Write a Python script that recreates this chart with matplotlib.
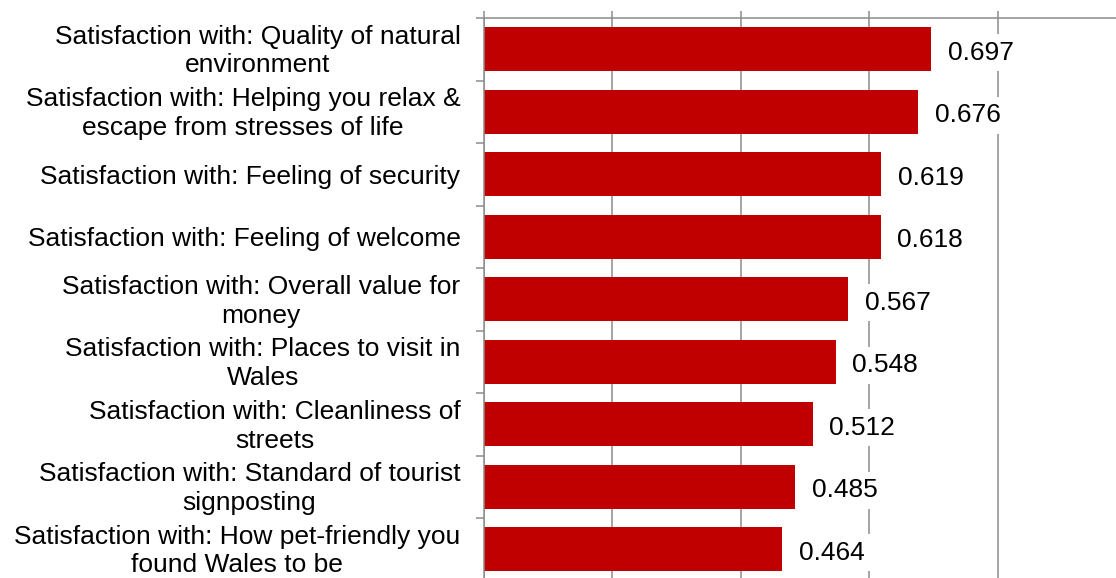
import matplotlib

matplotlib.use("Agg")
import matplotlib.pyplot as plt
from matplotlib.ticker import FixedLocator, MultipleLocator
from matplotlib.transforms import ScaledTranslation

categories = [
    "Satisfaction with: Quality of natural\nenvironment",
    "Satisfaction with: Helping you relax &\nescape from stresses of life",
    "Satisfaction with: Feeling of security",
    "Satisfaction with: Feeling of welcome",
    "Satisfaction with: Overall value for\nmoney",
    "Satisfaction with: Places to visit in\nWales",
    "Satisfaction with: Cleanliness of\nstreets",
    "Satisfaction with: Standard of tourist\nsignposting",
    "Satisfaction with: How pet-friendly you\nfound Wales to be",
]
scores = [0.697, 0.676, 0.619, 0.618, 0.567, 0.548, 0.512, 0.485, 0.464]

BAR = "#C00000"
GRID = "#8c8c8c"
FS = 19

plt.rcParams["font.family"] = ["Liberation Sans", "DejaVu Sans"]

W, H = 1116, 578
fig = plt.figure(figsize=(W / 100, H / 100), dpi=100)
x0, top, px_per_unit, band = 484, 18, 642, 62.5
n = len(categories)
ax = fig.add_axes([x0 / W, 1 - (top + n * band) / H, px_per_unit / W, n * band / H])

ypos = list(range(n))
ax.barh(ypos, scores, height=0.7, color=BAR, zorder=2)
ax.set_ylim(n - 0.5, -0.5)
ax.set_xlim(0, 1.0)

for y, v in zip(ypos, scores):
    ax.annotate(f"{v:.3f}", (v, y), xytext=(12, -2.5), textcoords="offset points",
                va="center", ha="left", fontsize=FS, color="black", zorder=3,
                bbox=dict(boxstyle="square,pad=0.25", fc="white", ec="none"))

ax.set_yticks(ypos)
ax.set_yticklabels(categories, fontsize=FS, multialignment="center", linespacing=1.25)
ax.yaxis.set_minor_locator(FixedLocator([i - 0.5 for i in range(n + 1)]))
ax.tick_params(axis="y", which="major", length=0, pad=17)
ax.tick_params(axis="y", which="minor", length=6, width=1.1, color=GRID, direction="out")

ax.xaxis.set_major_locator(MultipleLocator(0.2))
ax.xaxis.tick_top()
ax.tick_params(axis="x", which="major", length=5, width=1.1, color=GRID,
               labeltop=False, labelbottom=False)
ax.grid(axis="x", color=GRID, linewidth=1.1, zorder=1)
ax.set_axisbelow(True)

# two-line category labels sit a little high so they centre on the bars
lift = ScaledTranslation(0, 3 / 100, fig.dpi_scale_trans)
for tick, name in zip(ax.yaxis.get_major_ticks(), categories):
    if "\n" in name:
        tick.label1.set_transform(tick.label1.get_transform() + lift)

for side in ("right", "bottom"):
    ax.spines[side].set_visible(False)
for side in ("left", "top"):
    ax.spines[side].set_color(GRID)
    ax.spines[side].set_linewidth(1.1)

fig.savefig("out.png", dpi=100)
